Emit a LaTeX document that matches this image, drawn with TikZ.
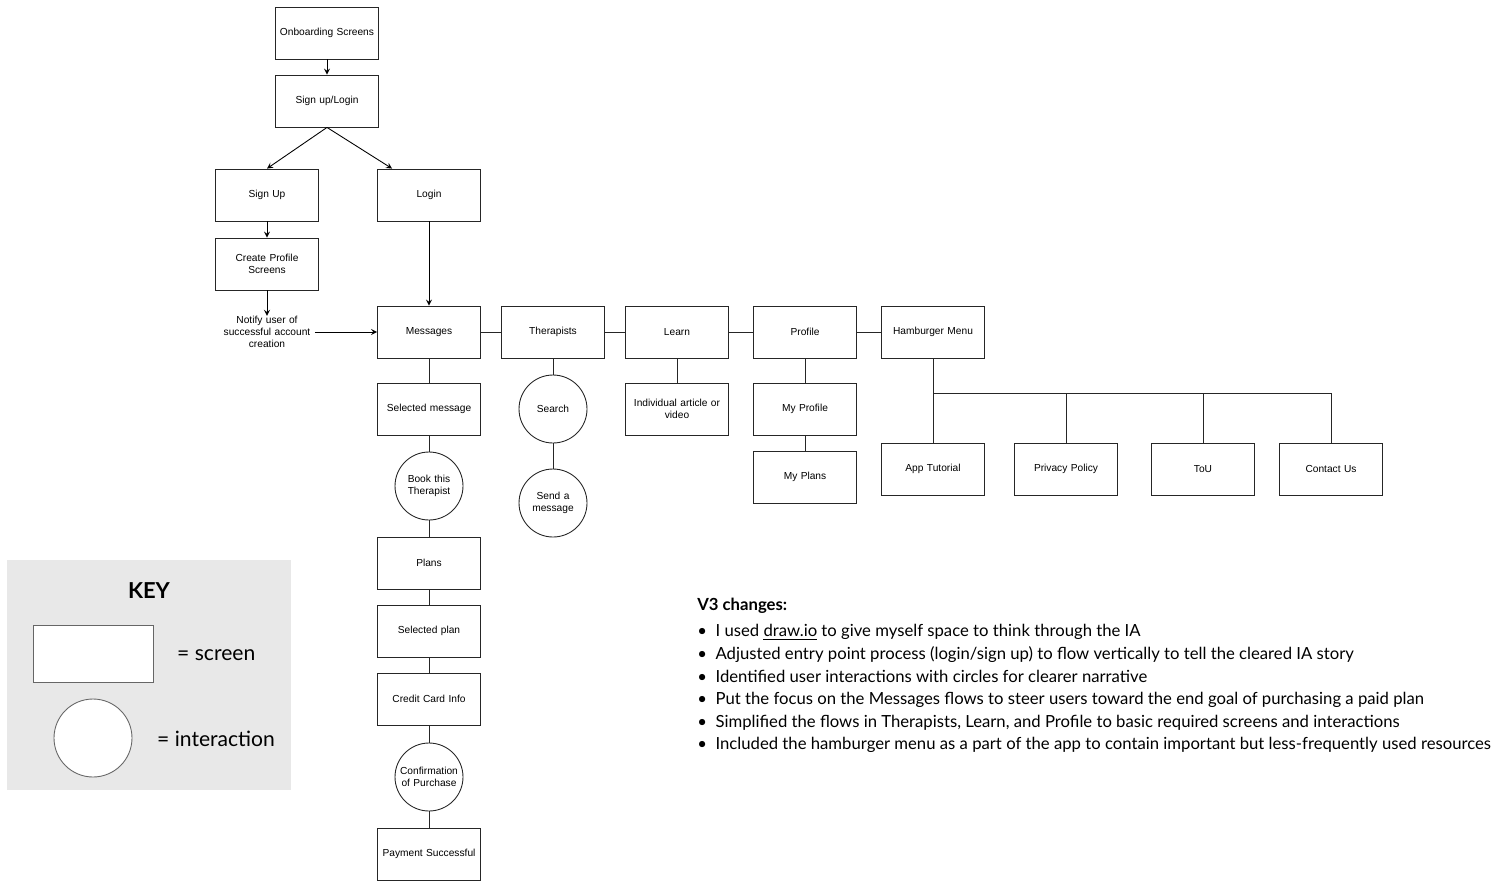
\documentclass[tikz,border=0pt]{standalone}
\usepackage{fontspec}
\setmainfont{Liberation Sans}
\newfontfamily\notefont{Lato}
\usepackage{tikz}
\usetikzlibrary{shapes.geometric, arrows}
\hyphenpenalty=10000
\exhyphenpenalty=10000
\tikzstyle{screen} = [rectangle, minimum width=2.06cm, minimum height=1.04cm, text centered, text width=1.95cm, inner sep=0pt, draw=black!85, line width=0.5pt, font=\fontsize{5.8}{6.9}\selectfont]
\tikzstyle{interaction} = [circle, minimum size=1.36cm, text centered, text width=1.2cm, inner sep=0pt, draw=black!85, line width=0.5pt, font=\fontsize{5.8}{6.9}\selectfont]
\tikzstyle{arrow} = [line width=0.5pt,->,>=stealth]
\tikzset{link/.style={line width=0.5pt, draw=black!85},
         keytext/.style={font=\notefont\fontsize{12}{14}\selectfont, anchor=west}
}

\begin{document}
\begin{tikzpicture}[x=0.02cm, y=-0.02cm]
\useasboundingbox (0,0) rectangle (1500,886);
% entry flow
\node (onb) [screen] at (327,33) {Onboarding Screens};
\node (sul) [screen] at (327,101) {Sign up/Login};
\node (signup) [screen] at (267,195) {Sign Up};
\node (login) [screen] at (429,195) {Login};
\node (cps) [screen] at (267,264) {Create Profile\\Screens};
\node (notify) [text width=1.9cm, text centered, inner sep=0pt, font=\fontsize{5.8}{6.9}\selectfont] at (267,332) {Notify user of\\successful account\\creation};
% main tabs
\node (msgs) [screen] at (429,332) {Messages};
\node (ther) [screen] at (553,332) {Therapists};
\node (learn) [screen] at (677,332) {Learn};
\node (prof) [screen] at (805,332) {Profile};
\node (ham) [screen] at (933,332) {Hamburger Menu};
% messages flow
\node (selmsg) [screen] at (429,409) {Selected message};
\node (book) [interaction] at (429,486) {Book this\\Therapist};
\node (plans) [screen] at (429,563) {Plans};
\node (selplan) [screen] at (429,631) {Selected plan};
\node (ccinfo) [screen] at (429,699) {Credit Card Info};
\node (confirm) [interaction] at (429,777) {Confirmation\\of Purchase};
\node (paid) [screen] at (429,854) {Payment Successful};
% other tabs
\node (search) [interaction] at (553,409) {Search};
\node (sendmsg) [interaction] at (553,503) {Send a\\message};
\node (article) [screen] at (677,409) {Individual article or\\video};
\node (myprof) [screen] at (805,409) {My Profile};
\node (myplans) [screen] at (805,477) {My Plans};
\node (apptut) [screen] at (933,469) {App Tutorial};
\node (privacy) [screen] at (1066,469) {Privacy Policy};
\node (tou) [screen] at (1203,469) {ToU};
\node (contact) [screen] at (1331,469) {Contact Us};
\coordinate (hbus) at (933,393);

\draw [arrow] (onb) -- (sul);
\draw [arrow] (sul.south) -- (signup.north);
\draw [arrow] (sul.south) -- ([xshift=0.3cm]login.north west);
\draw [arrow] (signup) -- (cps);
\draw [arrow] (cps) -- (notify);
\draw [arrow] (notify) -- (msgs);
\draw [arrow] (login) -- (msgs);

\draw [link] (msgs) -- (ther) -- (learn) -- (prof) -- (ham);
\draw [link] (msgs) -- (selmsg) -- (book) -- (plans) -- (selplan) -- (ccinfo) -- (confirm) -- (paid);
\draw [link] (ther) -- (search) -- (sendmsg);
\draw [link] (learn) -- (article);
\draw [link] (prof) -- (myprof) -- (myplans);
\draw [link] (ham) -- (apptut);
\draw [link] (hbus) -| (privacy);
\draw [link] (hbus) -| (tou);
\draw [link] (hbus) -| (contact);

% key
\node (keybg) [rectangle, fill=black!9, minimum width=5.68cm, minimum height=4.6cm, inner sep=0pt] at (149,675) {};
\node (keytitle) [font=\notefont\bfseries\fontsize{12.5}{14}\selectfont] at (149,591) {KEY};
\node (keyscreen) [rectangle, fill=white, draw=black!60, line width=0.5pt, minimum width=2.4cm, minimum height=1.14cm] at (93,654) {};
\node (keycircle) [circle, fill=white, draw=black!60, line width=0.5pt, minimum size=1.56cm, inner sep=0pt] at (93,738) {};
\node [keytext] at (171,655) {= screen};
\node [keytext] at (151,739) {= interaction};

% notes
\node (notes) [anchor=north west, align=left, inner sep=0pt, font=\notefont\fontsize{9.5}{12.86}\selectfont] at (697,598) {{\bfseries V3 changes:}\\[2pt]
\textbullet\ \ I used \underline{draw.io} to give myself space to think through the IA\\
\textbullet\ \ Adjusted entry point process (login/sign up) to flow vertically to tell the cleared IA story\\
\textbullet\ \ Identified user interactions with circles for clearer narrative\\
\textbullet\ \ Put the focus on the Messages flows to steer users toward the end goal of purchasing a paid plan\\
\textbullet\ \ Simplified the flows in Therapists, Learn, and Profile to basic required screens and interactions\\
\textbullet\ \ Included the hamburger menu as a part of the app to contain important but less-frequently used resources};
\end{tikzpicture}
\end{document}
